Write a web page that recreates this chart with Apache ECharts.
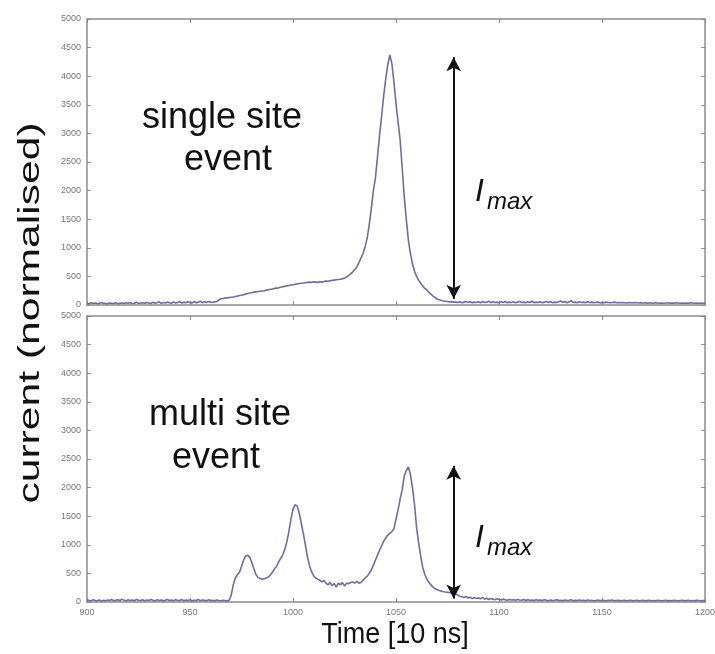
<!DOCTYPE html>
<html>
<head>
<meta charset="utf-8">
<script src="https://cdn.jsdelivr.net/npm/echarts@6/dist/echarts.min.js"></script>
<style>html,body{margin:0;padding:0;background:#fff;}#c{width:715px;height:654px;}</style>
</head>
<body>
<div id="c"></div>
<script>
// Time axis (units of 10 ns), one sample per unit starting at timeStart
const timeStart = 900;
const xTicks = [900, 950, 1000, 1050, 1100, 1150, 1200];
const yTicks = [0, 500, 1000, 1500, 2000, 2500, 3000, 3500, 4000, 4500, 5000];

// single site event: current per time unit, 900..1200
const singleSite = [
  30, 20, 40, 25, 35, 20, 30, 45, 25, 30,
  20, 35, 30, 25, 40, 20, 30, 35, 25, 40,
  30, 45, 25, 30, 50, 25, 35, 40, 30, 45,
  35, 25, 50, 30, 40, 55, 30, 45, 35, 50,
  40, 30, 55, 35, 45, 60, 35, 50, 40, 55,
  45, 35, 60, 40, 50, 65, 40, 55, 45, 60,
  50, 45, 55, 60, 90, 110, 115, 120, 125, 130,
  135, 140, 150, 155, 165, 170, 180, 190, 200, 210,
  215, 225, 230, 235, 240, 245, 250, 260, 265, 275,
  280, 290, 295, 300, 310, 320, 325, 335, 340, 350,
  355, 360, 370, 375, 380, 385, 390, 395, 400, 395,
  405, 400, 395, 410, 400, 410, 420, 415, 425, 430,
  435, 440, 445, 450, 460, 470, 490, 515, 545, 580,
  620, 665, 740, 820, 900, 1020, 1170, 1400, 1680, 2000,
  2220, 2580, 2960, 3300, 3650, 3950, 4200, 4370, 4220, 3900,
  3520, 3200, 2885, 2400, 1900, 1500, 1140, 900, 720, 590,
  500, 430, 380, 330, 290, 260, 220, 185, 155, 130,
  105, 90, 80, 70, 65, 60, 55, 55, 50, 50,
  45, 55, 40, 50, 60, 45, 55, 40, 50, 45,
  55, 40, 60, 45, 50, 65, 40, 55, 45, 50,
  40, 55, 45, 60, 40, 50, 45, 55, 40, 50,
  60, 45, 50, 40, 55, 45, 65, 40, 50, 45,
  55, 40, 50, 60, 45, 55, 40, 50, 45, 55,
  70, 45, 60, 40, 55, 75, 45, 50, 40, 55,
  45, 50, 40, 55, 45, 50, 40, 45, 50, 40,
  45, 40, 50, 45, 40, 45, 50, 40, 45, 40,
  45, 40, 35, 45, 40, 35, 45, 40, 35, 40,
  35, 40, 30, 40, 35, 30, 40, 35, 30, 35,
  30, 35, 40, 30, 35, 30, 40, 35, 30, 35,
  30, 35, 30, 40, 35, 30, 35, 30, 35, 30,
  30
];

// multi site event: current per time unit, 900..1200
const multiSite = [
  20, 30, 15, 40, 25, 20, 35, 15, 30, 20,
  35, 25, 45, 20, 30, 40, 25, 50, 30, 20,
  40, 25, 35, 20, 45, 30, 25, 40, 20, 35,
  25, 45, 30, 20, 40, 25, 35, 20, 30, 45,
  25, 35, 20, 40, 30, 25, 45, 20, 35, 25,
  40, 20, 30, 25, 45, 20, 35, 30, 20, 40,
  25, 30, 20, 35, 25, 20, 30, 25, 20, 30,
  120, 300, 420, 480, 520, 620, 730, 800, 820, 780,
  690, 580, 480, 430, 410, 400, 405, 420, 440, 470,
  520, 580, 620, 700, 760, 820, 920, 1050, 1230, 1450,
  1620, 1700, 1680, 1560, 1380, 1200, 1000, 790, 640, 530,
  460, 420, 400, 385, 350, 380, 330, 300, 340, 290,
  320, 260, 330, 300, 340, 280, 330, 320, 340, 350,
  330, 360, 330, 340, 380, 420, 450, 500, 560, 640,
  730, 820, 900, 980, 1060, 1120, 1170, 1200, 1230, 1280,
  1450, 1610, 1800, 1960, 2200, 2300, 2360, 2230, 2000, 1700,
  1300, 1030, 800, 600, 480, 400, 340, 300, 260, 230,
  215, 200, 190, 180, 175, 170, 165, 160, 150, 140,
  120, 100, 90, 80, 95, 70, 85, 60, 75, 65,
  70, 55, 80, 50, 65, 45, 60, 50, 40, 55,
  45, 35, 50, 40, 30, 45, 35, 40, 30, 45,
  35, 30, 45, 25, 40, 30, 35, 25, 40, 30,
  35, 25, 40, 30, 20, 35, 25, 30, 40, 25,
  30, 20, 35, 25, 30, 40, 20, 30, 25, 35,
  25, 30, 20, 35, 25, 30, 20, 25, 35, 20,
  30, 25, 20, 30, 25, 35, 20, 25, 30, 20,
  25, 30, 20, 25, 30, 20, 25, 30, 20, 25,
  30, 20, 25, 30, 20, 25, 20, 30, 25, 20,
  25, 30, 20, 25, 20, 30, 25, 20, 25, 30,
  20, 25, 30, 20, 25, 20, 30, 25, 20, 25,
  20
];

// I_max arrows: [time, top current, bottom current]
const singleArrow = [1078, 4330, 110];
const multiArrow = [1078, 2380, 60];

const toPairs = arr => arr.map((v, i) => [timeStart + i, v]);

const frameColor = '#8c8c8c';
const lineColor = '#6e6e9c';
const FONT = 'Liberation Sans, Arial, sans-serif';

function xAxis(grid, pos, labels) {
  return {
    type: 'value', gridIndex: grid, position: pos,
    min: xTicks[0], max: xTicks[xTicks.length - 1], interval: 50,
    axisLine: { show: true, onZero: false, lineStyle: { color: frameColor, width: 1.5 } },
    axisTick: { show: true, inside: true, length: 4, lineStyle: { color: frameColor } },
    axisLabel: { show: labels, fontSize: 9, color: '#777', fontFamily: FONT, margin: 6, showMaxLabel: true, showMinLabel: true, formatter: v => String(v) },
    splitLine: { show: false }
  };
}
function yAxis(grid, pos, labels) {
  return {
    type: 'value', gridIndex: grid, position: pos,
    min: yTicks[0], max: yTicks[yTicks.length - 1], interval: 500,
    axisLine: { show: true, onZero: false, lineStyle: { color: frameColor, width: 1.5 } },
    axisTick: { show: true, inside: true, length: 4, lineStyle: { color: frameColor } },
    axisLabel: { show: labels, fontSize: 9, color: '#777', fontFamily: FONT, margin: 6, showMaxLabel: true, showMinLabel: true, formatter: v => String(v) },
    splitLine: { show: false }
  };
}
function arrowLine(a) {
  return {
    silent: true, animation: false,
    symbol: ['arrow', 'arrow'], symbolSize: [11, 14],
    lineStyle: { color: '#111', width: 2, type: 'solid' },
    label: { show: false },
    emphasis: { disabled: true },
    data: [[{ coord: [a[0], a[1]] }, { coord: [a[0], a[2]] }]]
  };
}

const chart = echarts.init(document.getElementById('c'), null, { renderer: 'canvas' });
chart.setOption({
  animation: false,
  backgroundColor: '#fff',
  grid: [
    { left: 87, right: 10, top: 19, height: 286, outerBoundsMode: 'none', containLabel: false },
    { left: 87, right: 10, top: 316, height: 286, outerBoundsMode: 'none', containLabel: false }
  ],
  xAxis: [xAxis(0, 'bottom', false), xAxis(0, 'top', false), xAxis(1, 'bottom', true), xAxis(1, 'top', false)],
  yAxis: [yAxis(0, 'left', true), yAxis(0, 'right', false), yAxis(1, 'left', true), yAxis(1, 'right', false)],
  series: [
    {
      type: 'line', xAxisIndex: 0, yAxisIndex: 0, data: toPairs(singleSite),
      showSymbol: false, lineStyle: { color: lineColor, width: 1.6 }, markLine: arrowLine(singleArrow)
    },
    {
      type: 'line', xAxisIndex: 2, yAxisIndex: 2, data: toPairs(multiSite),
      showSymbol: false, lineStyle: { color: lineColor, width: 1.6 }, markLine: arrowLine(multiArrow)
    }
  ],
  graphic: [
    { type: 'text', x: 222, y: 118, style: { text: 'single site', font: '36px ' + FONT, fill: '#111', align: 'center', verticalAlign: 'middle' } },
    { type: 'text', x: 228, y: 160, style: { text: 'event', font: '36px ' + FONT, fill: '#111', align: 'center', verticalAlign: 'middle' } },
    { type: 'text', x: 220, y: 415, style: { text: 'multi site', font: '36px ' + FONT, fill: '#111', align: 'center', verticalAlign: 'middle' } },
    { type: 'text', x: 216, y: 458, style: { text: 'event', font: '36px ' + FONT, fill: '#111', align: 'center', verticalAlign: 'middle' } },
    { type: 'text', x: 475, y: 192, style: { text: 'I', font: 'italic 32px ' + FONT, fill: '#111', align: 'left', verticalAlign: 'middle' } },
    { type: 'text', x: 487, y: 202, style: { text: 'max', font: 'italic 24px ' + FONT, fill: '#111', align: 'left', verticalAlign: 'middle' } },
    { type: 'text', x: 475, y: 538, style: { text: 'I', font: 'italic 32px ' + FONT, fill: '#111', align: 'left', verticalAlign: 'middle' } },
    { type: 'text', x: 487, y: 548, style: { text: 'max', font: 'italic 24px ' + FONT, fill: '#111', align: 'left', verticalAlign: 'middle' } },
    { type: 'text', x: 31, y: 313, rotation: Math.PI / 2, scaleX: 1.42, style: { text: 'current (normalised)', font: '30px ' + FONT, fill: '#111', align: 'center', verticalAlign: 'middle' } },
    { type: 'text', x: 395, y: 635, scaleY: 1.1, style: { text: 'Time [10 ns]', font: '27px ' + FONT, fill: '#111', align: 'center', verticalAlign: 'middle' } }
  ]
});
</script>
</body>
</html>
